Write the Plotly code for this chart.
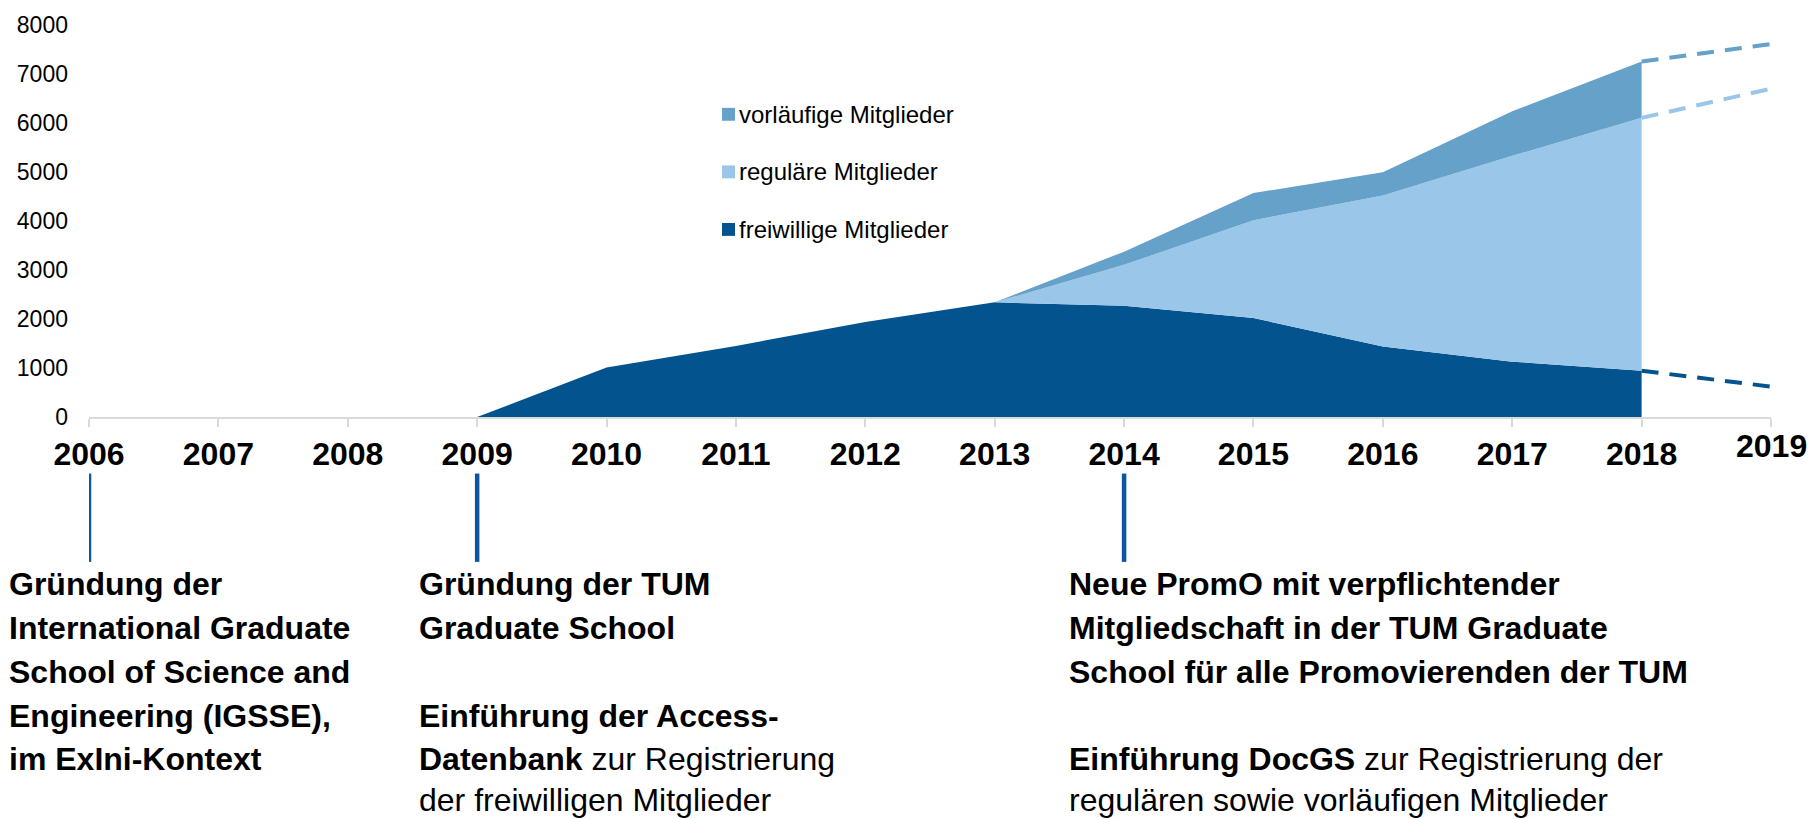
import plotly.graph_objects as go

# ---------------- data ----------------
jahre = [2009, 2010, 2011, 2012, 2013, 2014, 2015, 2016, 2017, 2018]
freiwillige = [0, 1010, 1450, 1940, 2340, 2270, 2020, 1440, 1130, 945]
regulaere = [0, 0, 0, 0, 0, 835, 1995, 3080, 4200, 5160]
vorlaeufige = [0, 0, 0, 0, 0, 270, 555, 475, 910, 1150]

# projected stacked levels for 2019 (dashed lines)
prognose_jahr = 2019
prognose_freiwillige = 620
prognose_freiw_reg = 6700
prognose_gesamt = 7610

achse_jahre = list(range(2006, 2020))
y_ticks = list(range(0, 8001, 1000))

legend_namen = ["vorläufige Mitglieder", "reguläre Mitglieder", "freiwillige Mitglieder"]

C_DARK = "#03538F"
C_LIGHT = "#9AC6E9"
C_MID = "#65A1C9"
C_LINE = "#0C56A0"
FONT = "Liberation Sans, Arial, sans-serif"

# ---------------- layout geometry ----------------
W, H = 1812, 819
L, R, T, B = 89, 41, 22, 402
plot_w = W - L - R
plot_h = H - T - B


def px_x(px):
    return (px - L) / plot_w


def px_y(py):
    return (H - B - py) / plot_h


fig = go.Figure()

# stacked areas
fig.add_trace(go.Scatter(x=jahre, y=freiwillige, stackgroup="a", mode="lines",
                         name=legend_namen[2], line=dict(width=0),
                         fillcolor=C_DARK, showlegend=False, hoverinfo="skip"))
fig.add_trace(go.Scatter(x=jahre, y=regulaere, stackgroup="a", mode="lines",
                         name=legend_namen[1], line=dict(width=0),
                         fillcolor=C_LIGHT, showlegend=False, hoverinfo="skip"))
fig.add_trace(go.Scatter(x=jahre, y=vorlaeufige, stackgroup="a", mode="lines",
                         name=legend_namen[0], line=dict(width=0),
                         fillcolor=C_MID, showlegend=False, hoverinfo="skip"))

# dashed projections from last stacked values to 2019
f_last = freiwillige[-1]
fr_last = freiwillige[-1] + regulaere[-1]
g_last = fr_last + vorlaeufige[-1]
for y0, y1, col in [(g_last, prognose_gesamt, C_MID),
                    (fr_last, prognose_freiw_reg, C_LIGHT),
                    (f_last, prognose_freiwillige, C_DARK)]:
    fig.add_trace(go.Scatter(x=[jahre[-1], prognose_jahr], y=[y0, y1], mode="lines",
                             line=dict(color=col, width=4, dash="17px,11px"),
                             showlegend=False, hoverinfo="skip", cliponaxis=False))

# legend (drawn manually: small squares right next to the labels)
legend_rows = [112, 170, 228]
for name, col, cy in zip(legend_namen, [C_MID, C_LIGHT, C_DARK], legend_rows):
    fig.add_shape(type="rect", xref="paper", yref="paper",
                  x0=px_x(722), x1=px_x(735), y0=px_y(cy + 6.5), y1=px_y(cy - 6.5),
                  fillcolor=col, line=dict(width=0))
    fig.add_annotation(x=px_x(737), y=px_y(cy), xref="paper", yref="paper",
                       text=name, showarrow=False, xanchor="left", yanchor="middle",
                       font=dict(family=FONT, size=24, color="#000000"))

# vertical marker lines below the axis
for yr in [2006, 2009, 2014]:
    fig.add_shape(type="line", xref="x", yref="paper", x0=yr, x1=yr,
                  y0=px_y(474), y1=px_y(563), line=dict(color=C_LINE, width=4.5))

# raised label for the projection year
fig.add_annotation(x=prognose_jahr, y=px_y(446), xref="x", yref="paper",
                   text=f"<b>{prognose_jahr}</b>", showarrow=False,
                   xanchor="center", yanchor="middle",
                   font=dict(family=FONT, size=32, color="#000000"))

# text blocks (one annotation per line for exact line spacing)
centers = [585, 629.5, 674, 718.5, 762, 803]
blocks = [
    (7, ["<b>Gründung der</b>", "<b>International Graduate</b>",
         "<b>School of Science and</b>", "<b>Engineering (IGSSE),</b>",
         "<b>im ExIni-Kontext</b>", None]),
    (417, ["<b>Gründung der TUM</b>", "<b>Graduate School</b>", None,
           "<b>Einführung der Access-</b>",
           "<b>Datenbank</b> zur Registrierung", "der freiwilligen Mitglieder"]),
    (1067, ["<b>Neue PromO mit verpflichtender</b>",
            "<b>Mitgliedschaft in der TUM Graduate</b>",
            "<b>School für alle Promovierenden der TUM</b>", None,
            "<b>Einführung DocGS</b> zur Registrierung der",
            "regulären sowie vorläufigen Mitglieder"]),
]
for xpx, lines in blocks:
    for c, txt in zip(centers, lines):
        if txt is None:
            continue
        fig.add_annotation(x=px_x(xpx), y=px_y(c), xref="paper", yref="paper",
                           text=txt, showarrow=False, xanchor="left",
                           yanchor="middle", align="left",
                           font=dict(family=FONT, size=32, color="#000000"))

fig.update_layout(
    width=W, height=H,
    margin=dict(l=L, r=R, t=T, b=B),
    paper_bgcolor="white", plot_bgcolor="white",
    font=dict(family=FONT, color="#000000"),
    showlegend=False,
    xaxis=dict(range=[2006, 2019], tickvals=achse_jahre,
               ticktext=[str(j) if j != prognose_jahr else "" for j in achse_jahre],
               showgrid=False, zeroline=False, showline=True,
               linecolor="#D9D9D9", linewidth=2, ticks="outside",
               ticklen=8, tickwidth=2, tickcolor="#D9D9D9",
               tickfont=dict(family=FONT, size=32, color="#000000", weight="bold"),
               ticklabelstandoff=0, fixedrange=True),
    yaxis=dict(range=[0, 8000], tickvals=y_ticks, showgrid=False, zeroline=False,
               showline=False, ticks="", ticklabelstandoff=20,
               tickfont=dict(family=FONT, size=23, color="#000000"),
               fixedrange=True),
)

fig.write_html("out.html", config={"displayModeBar": False},
               post_script="document.body.style.margin='0px';")
